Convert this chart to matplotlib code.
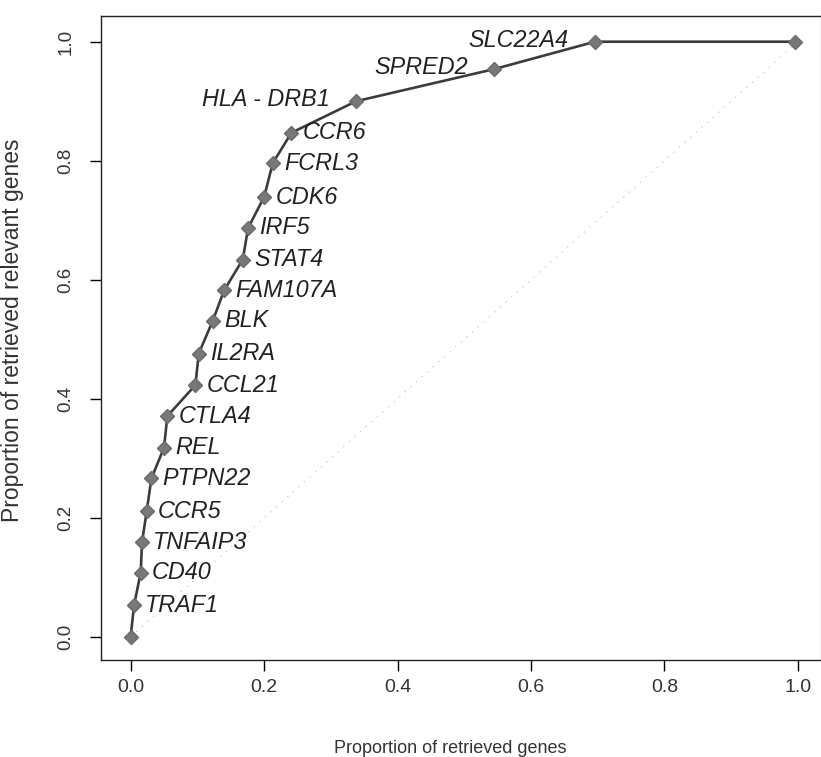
import matplotlib
matplotlib.use("Agg")
import matplotlib.pyplot as plt

# retrieval curve: proportion of retrieved genes vs proportion of relevant genes
genes = ["", "TRAF1", "CD40", "TNFAIP3", "CCR5", "PTPN22", "REL", "CTLA4",
         "CCL21", "IL2RA", "BLK", "FAM107A", "STAT4", "IRF5", "CDK6",
         "FCRL3", "CCR6", "HLA - DRB1", "SPRED2", "SLC22A4", ""]
x_vals = [0.0, 0.005, 0.015, 0.017, 0.024, 0.031, 0.050, 0.055,
          0.097, 0.102, 0.123, 0.140, 0.168, 0.176, 0.200,
          0.213, 0.241, 0.338, 0.545, 0.696, 0.996]
y_vals = [0.0, 0.053, 0.108, 0.159, 0.211, 0.266, 0.318, 0.371,
          0.423, 0.476, 0.531, 0.582, 0.634, 0.687, 0.739,
          0.796, 0.847, 0.900, 0.954, 1.0, 1.0]
left_side = ["HLA - DRB1", "SPRED2", "SLC22A4"]

plt.rcParams['font.family'] = ['Liberation Sans', 'DejaVu Sans']

fig = plt.figure(figsize=(8.21, 7.57), dpi=100)
ax = fig.add_axes([101 / 821, 1 - 660 / 757, 719.5 / 821, 644.3 / 757])

# faint random-retrieval diagonal
ax.plot([0, 1], [0, 1], color='#c8c8c8', lw=0.9, ls=(0, (1, 5)), zorder=1)

ax.plot(x_vals, y_vals, color='#3c3c3c', lw=1.9, zorder=2)
ax.plot(x_vals, y_vals, ls='none', marker='D', markersize=7,
        markerfacecolor='#787878', markeredgecolor='#6a6a6a', zorder=3)

for g, x, y in zip(genes, x_vals, y_vals):
    if not g:
        continue
    if g in left_side:
        ax.annotate(g, (x, y), xytext=(-19, 1), textcoords='offset points',
                    ha='right', va='center', fontsize=16.8, style='italic',
                    color='#222222')
    else:
        ax.annotate(g, (x, y), xytext=(8, 0), textcoords='offset points',
                    ha='left', va='center', fontsize=16.8, style='italic',
                    color='#222222')

ax.set_xlim(-0.0445, 1.034)
ax.set_ylim(-0.039, 1.0437)
ticks = [0.0, 0.2, 0.4, 0.6, 0.8, 1.0]
ax.set_xticks(ticks)
ax.set_yticks(ticks)
ax.set_xticklabels([f"{t:.1f}" for t in ticks])
ax.set_yticklabels([f"{t:.1f}" for t in ticks], rotation=90, va='center')
ax.tick_params(axis='x', length=8, width=1, pad=6, labelsize=14,
               labelcolor='#333333')
ax.tick_params(axis='y', length=8, width=1, pad=11, labelsize=13.5,
               labelcolor='#333333')

for s in ax.spines.values():
    s.set_color('#222222')
    s.set_linewidth(1.0)
ax.spines['right'].set_color('#bbbbbb')

ax.set_xlabel('Proportion of retrieved genes', fontsize=13, color='#333333')
ax.set_ylabel('Proportion of retrieved relevant genes', fontsize=16.5,
              color='#333333')
ax.xaxis.set_label_coords(0.485, -0.124)
ax.yaxis.set_label_coords(-0.107, 0.512)

fig.savefig('out.png', dpi=100)
